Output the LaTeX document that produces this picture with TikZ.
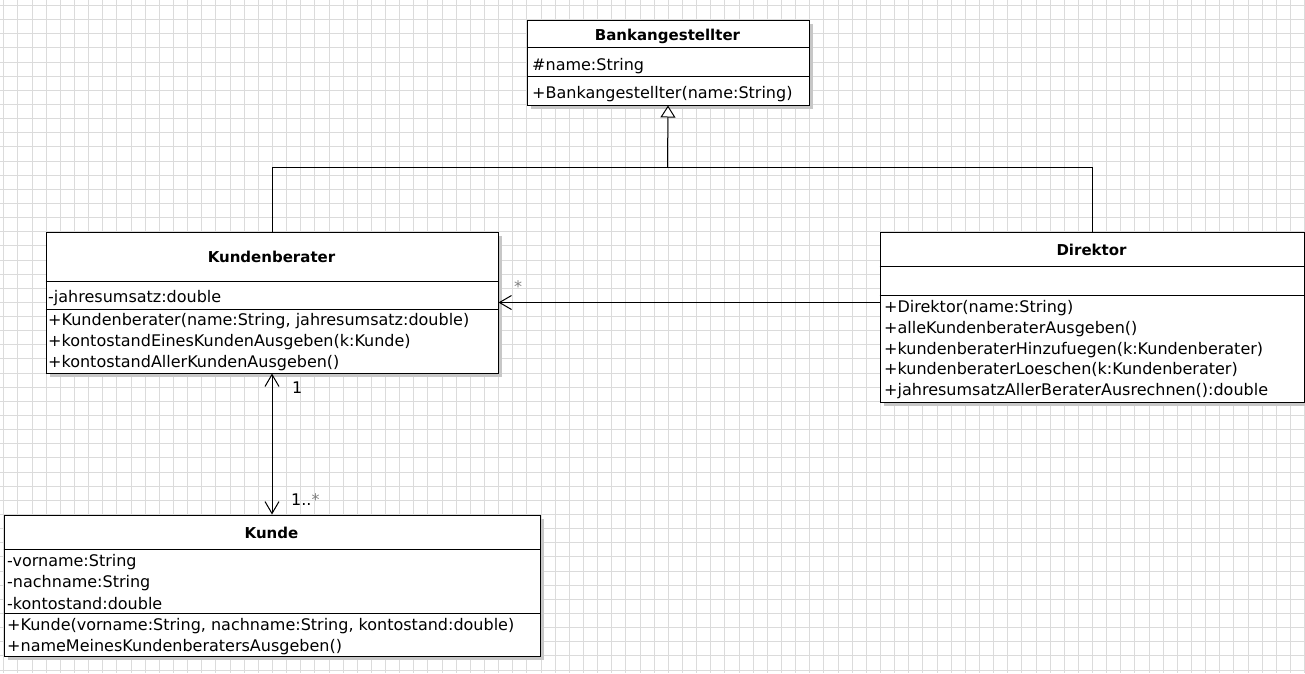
\documentclass[tikz,border=0pt]{standalone}
\usepackage{fontspec}
\setmainfont{DejaVu Sans}
\usetikzlibrary{
  arrows.meta,
  positioning,
  shadows
}

\tikzset{
  classbox/.style={draw, fill=white, line width=1pt, anchor=north west,
    inner sep=0pt, drop shadow={shadow xshift=4pt, shadow yshift=-4pt,
    fill=black!22, opacity=1}},
  classname/.style={anchor=base, inner sep=0pt,
    font=\fontsize{15}{18}\selectfont\bfseries},
  member/.style={anchor=base west, inner sep=0pt,
    font=\fontsize{16}{20}\selectfont},
  gridline/.style={draw=black!14, line width=1pt},
  sepline/.style={line width=1pt},
  inherit/.style={line width=1pt,
    -{Triangle[open, length=12pt, width=15pt, fill=white]}},
  assoc/.style={line width=1pt, -{Straight Barb[length=12pt, width=14pt]}},
  biassoc/.style={line width=1pt,
    {Straight Barb[length=12pt, width=14pt]}-{Straight Barb[length=12pt, width=14pt]}}
}

\begin{document}
\begin{tikzpicture}[
    x=1pt,
    y=-1pt
    ]

    \useasboundingbox (0,0) rectangle (1305,673);
    \fill[white] (0,0) rectangle (1305,673);

    % grid
    \foreach \i in {0,...,92}{
      \pgfmathsetmacro\gx{round(3.3+14.14*\i)+0.5}
      \draw[gridline] (\gx,0) -- (\gx,673);
    }
    \foreach \j in {0,...,47}{
      \pgfmathsetmacro\gy{round(5+14.14*\j)+0.5}
      \draw[gridline] (0,\gy) -- (1305,\gy);
    }

    % Bankangestellter
    \node[classbox, minimum width=282pt, minimum height=85pt] (bank) at (526.5,19.5) {};
    \draw[sepline] (bank.west |- 0,47.5) -- (bank.east |- 0,47.5);
    \draw[sepline] (bank.west |- 0,76.5) -- (bank.east |- 0,76.5);
    \node[classname] (bank-title) at (667.5,40) {Bankangestellter};
    \node[member] (bank-a1) at (532,70) {\#name:String};
    \node[member] (bank-m1) at (532,98.5) {+Bankangestellter(name:String)};

    % Kundenberater
    \node[classbox, minimum width=452pt, minimum height=141pt] (kb) at (45.5,231.5) {};
    \draw[sepline] (kb.west |- 0,281.5) -- (kb.east |- 0,281.5);
    \draw[sepline] (kb.west |- 0,309.5) -- (kb.east |- 0,309.5);
    \node[classname] (kb-title) at (271.5,262) {Kundenberater};
    \node[member] (kb-a1) at (48,302) {-jahresumsatz:double};
    \node[member] (kb-m1) at (48,325) {+Kundenberater(name:String, jahresumsatz:double)};
    \node[member] (kb-m2) at (48,346) {+kontostandEinesKundenAusgeben(k:Kunde)};
    \node[member] (kb-m3) at (48,367) {+kontostandAllerKundenAusgeben()};

    % Direktor
    \node[classbox, minimum width=424pt, minimum height=170pt] (dir) at (879.5,231.5) {};
    \draw[sepline] (dir.west |- 0,266.5) -- (dir.east |- 0,266.5);
    \draw[sepline] (dir.west |- 0,295.5) -- (dir.east |- 0,295.5);
    \node[classname] (dir-title) at (1091.5,255) {Direktor};
    \node[member] (dir-m1) at (884,312) {+Direktor(name:String)};
    \node[member] (dir-m2) at (884,333) {+alleKundenberaterAusgeben()};
    \node[member] (dir-m3) at (884,354) {+kundenberaterHinzufuegen(k:Kundenberater)};
    \node[member] (dir-m4) at (884,374.5) {+kundenberaterLoeschen(k:Kundenberater)};
    \node[member] (dir-m5) at (884,395.5) {+jahresumsatzAllerBeraterAusrechnen():double};

    % Kunde
    \node[classbox, minimum width=536pt, minimum height=141pt] (kunde) at (3.5,514.5) {};
    \draw[sepline] (kunde.west |- 0,549.5) -- (kunde.east |- 0,549.5);
    \draw[sepline] (kunde.west |- 0,613.5) -- (kunde.east |- 0,613.5);
    \node[classname] (kunde-title) at (271.5,538) {Kunde};
    \node[member] (kunde-a1) at (7,566) {-vorname:String};
    \node[member] (kunde-a2) at (7,587.5) {-nachname:String};
    \node[member] (kunde-a3) at (7,609) {-kontostand:double};
    \node[member] (kunde-m1) at (7,630) {+Kunde(vorname:String, nachname:String, kontostand:double)};
    \node[member] (kunde-m2) at (7,651) {+nameMeinesKundenberatersAusgeben()};

    % Vererbung
    \coordinate (fork) at (667.5,167.5);
    \draw[line width=1pt] (kb.north) |- (fork) -| (dir.north);
    \draw[inherit] (fork) -- (bank.south);

    % Assoziationen
    \coordinate (dkrow) at (0,302.5);
    \draw[assoc] (dir.west |- dkrow) -- (kb.east |- dkrow);
    \node[member, text=black!50] (kb-mult) at (514,292.5) {*};

    \draw[biassoc] (kb.south) -- (kunde.north);
    \node[member] (kb-one) at (292,393) {1};
    \node[member] (kunde-mult) at (291,505) {1..{\color{black!50}*}};

\end{tikzpicture}
\end{document}
